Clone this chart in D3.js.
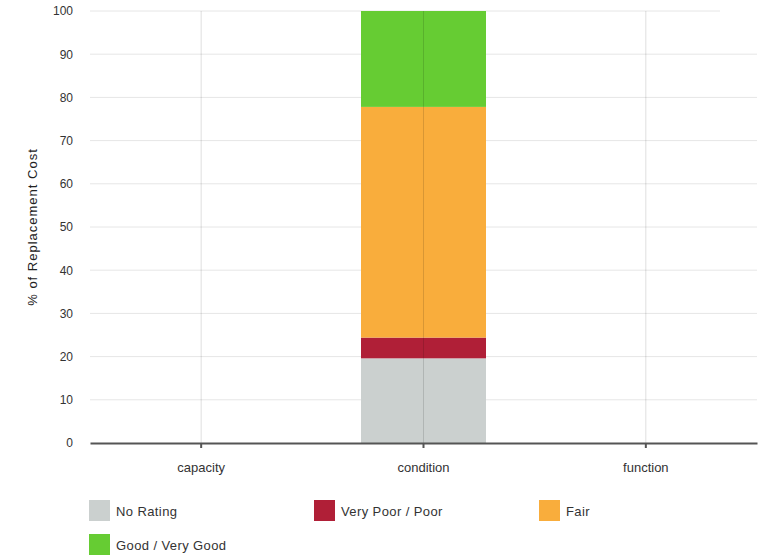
<!DOCTYPE html>
<html>
<head>
<meta charset="utf-8">
<script src="https://cdn.jsdelivr.net/npm/d3@7"></script>
<style>
  body { margin: 0; background: #fff; }
  svg { display: block; font-family: "Liberation Sans", Arial, sans-serif; }
</style>
</head>
<body>
<svg id="chart" width="766" height="555"></svg>
<script>
// ----------- DATA -----------
const categories = ["capacity", "condition", "function"];
const seriesNames = ["No Rating", "Very Poor / Poor", "Fair", "Good / Very Good"];
const seriesColors = ["#cbd0cf", "#b01f37", "#f9ad3c", "#66cc33"];
const noRating = [0, 19.6, 0];
const veryPoorPoor = [0, 4.8, 0];
const fair = [0, 53.4, 0];
const goodVeryGood = [0, 22.2, 0];
const yTicks = [0, 10, 20, 30, 40, 50, 60, 70, 80, 90, 100];

// ----------- LAYOUT -----------
const svg = d3.select("#chart");
const plotLeft = 90, plotRight = 757, plotTop = 11, plotBottom = 443;

const x = d3.scaleBand().domain(categories).range([plotLeft, plotRight]).paddingInner(0).paddingOuter(0);
const y = d3.scaleLinear().domain([0, 100]).range([plotBottom, plotTop]);
const barW = 125;

// horizontal grid
svg.append("g")
  .selectAll("line")
  .data(yTicks.filter(t => t > 0))
  .enter()
  .append("line")
  .attr("x1", plotLeft)
  .attr("x2", d => d === 100 ? 720 : plotRight)
  .attr("y1", d => y(d))
  .attr("y2", d => y(d))
  .attr("stroke", "#e6e6e6")
  .attr("stroke-width", 1);

// stacked bars
const table = categories.map((c, i) => ({
  cat: c,
  "No Rating": noRating[i],
  "Very Poor / Poor": veryPoorPoor[i],
  "Fair": fair[i],
  "Good / Very Good": goodVeryGood[i]
}));
const stacked = d3.stack().keys(seriesNames)(table);

svg.append("g")
  .selectAll("g")
  .data(stacked)
  .enter()
  .append("g")
  .attr("fill", (d, i) => seriesColors[i])
  .selectAll("rect")
  .data(d => d)
  .enter()
  .append("rect")
  .attr("x", d => x(d.data.cat) + x.bandwidth() / 2 - barW / 2)
  .attr("width", barW)
  .attr("y", d => y(d[1]))
  .attr("height", d => y(d[0]) - y(d[1]));

// vertical grid on top of bars
svg.append("g")
  .selectAll("line")
  .data(categories)
  .enter()
  .append("line")
  .attr("x1", d => x(d) + x.bandwidth() / 2)
  .attr("x2", d => x(d) + x.bandwidth() / 2)
  .attr("y1", plotTop)
  .attr("y2", plotBottom)
  .attr("stroke", "rgba(0,0,0,0.13)")
  .attr("stroke-width", 1);

// x axis
const xAxis = svg.append("g")
  .attr("transform", `translate(0,${plotBottom})`)
  .call(d3.axisBottom(x).tickSize(5).tickSizeOuter(0).tickPadding(15));
xAxis.select(".domain").attr("stroke", "#555").attr("stroke-width", 2);
xAxis.selectAll(".tick line").attr("stroke", "#555").attr("stroke-width", 2);
xAxis.selectAll("text").attr("font-size", 13).attr("fill", "#333");

// y axis
const yAxis = svg.append("g")
  .attr("transform", `translate(${plotLeft},0)`)
  .call(d3.axisLeft(y).tickValues(yTicks).tickSize(0).tickPadding(17));
yAxis.select(".domain").remove();
yAxis.selectAll("text").attr("font-size", 12).attr("fill", "#333");

svg.append("text")
  .attr("transform", `translate(37,${(plotTop + plotBottom) / 2}) rotate(-90)`)
  .attr("text-anchor", "middle")
  .attr("font-size", 13)
  .attr("letter-spacing", 1)
  .attr("fill", "#222")
  .text("% of Replacement Cost");

// ----------- LEGEND -----------
const legend = svg.append("g")
  .selectAll("g")
  .data(seriesNames)
  .enter()
  .append("g")
  .attr("transform", (d, i) => `translate(${89 + (i % 3) * 225},${500 + Math.floor(i / 3) * 34})`);

legend.append("rect")
  .attr("width", 21)
  .attr("height", 21)
  .attr("fill", (d, i) => seriesColors[i]);

legend.append("text")
  .attr("x", 27)
  .attr("y", 11)
  .attr("dy", "0.35em")
  .attr("font-size", 13)
  .attr("letter-spacing", 0.4)
  .attr("fill", "#333")
  .text(d => d);
</script>
</body>
</html>
